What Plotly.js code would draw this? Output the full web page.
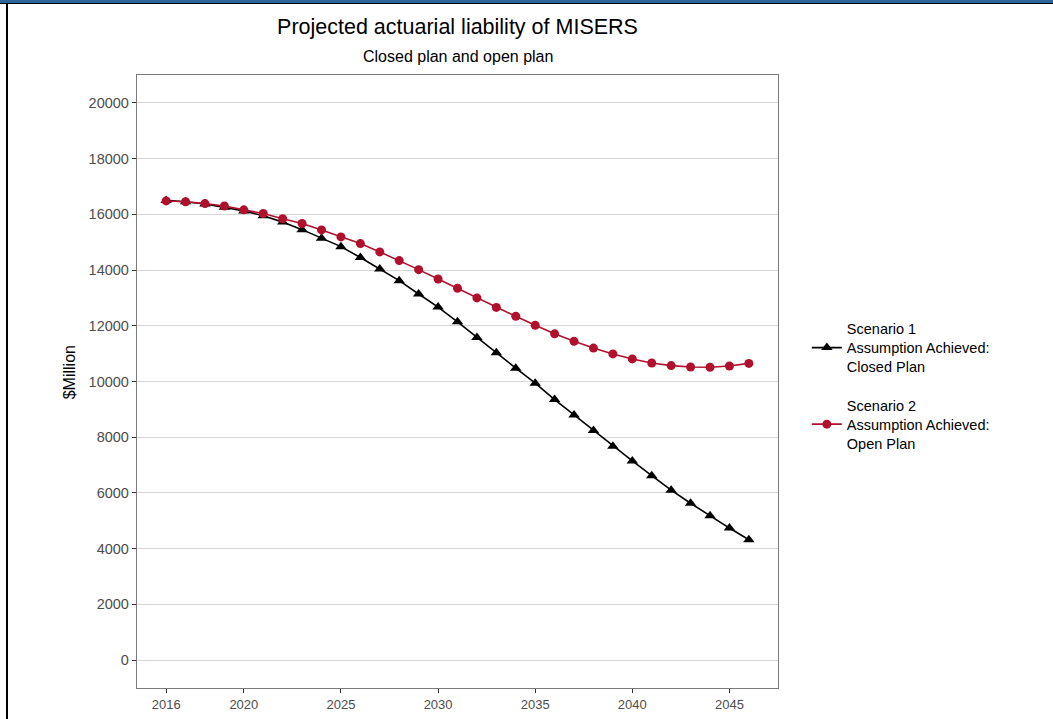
<!DOCTYPE html>
<html>
<head>
<meta charset="utf-8">
<script src="https://cdn.plot.ly/plotly-3.0.1.min.js"></script>
<style>
  html, body { margin: 0; padding: 0; background: #fff; }
  #wrap { position: relative; width: 1053px; height: 719px; overflow: hidden; }
  #chart { position: absolute; left: 0; top: 0; width: 1053px; height: 719px; }
  .bar-blue { position: absolute; left: 0; top: 0; width: 1053px; height: 3px; background: #2e6599; }
  .bar-black { position: absolute; left: 0; top: 3px; width: 1053px; height: 1px; background: #000; }
  .side-black { position: absolute; left: 6px; top: 3px; width: 2px; height: 716px; background: #000; }
</style>
</head>
<body>
<div id="wrap">
  <div id="chart"></div>
  <div class="bar-blue"></div>
  <div class="bar-black"></div>
  <div class="side-black"></div>
</div>
<script>
// Years of projection
const years = [2016, 2017, 2018, 2019, 2020, 2021, 2022, 2023, 2024, 2025,
               2026, 2027, 2028, 2029, 2030, 2031, 2032, 2033, 2034, 2035,
               2036, 2037, 2038, 2039, 2040, 2041, 2042, 2043, 2044, 2045, 2046];

// Scenario 1: Closed plan ($Million)
const closedPlan = [16500, 16450, 16370, 16250, 16120, 15950, 15720, 15450, 15140, 14840,
                    14450, 14040, 13620, 13140, 12670, 12140, 11580, 11030, 10480, 9940,
                    9350, 8800, 8240, 7680, 7150, 6620, 6100, 5630, 5180, 4740, 4320];

// Scenario 2: Open plan ($Million)
const openPlan = [16480, 16450, 16385, 16300, 16160, 16030, 15840, 15670, 15440, 15190,
                  14950, 14650, 14340, 14015, 13680, 13345, 13000, 12660, 12340, 12020,
                  11710, 11445, 11200, 10990, 10810, 10665, 10570, 10520, 10510, 10555, 10650];

const xTickVals = [2016, 2020, 2025, 2030, 2035, 2040, 2045];
const yTickVals = [0, 2000, 4000, 6000, 8000, 10000, 12000, 14000, 16000, 18000, 20000];

const seriesNames = [
  "Scenario 1<br>Assumption Achieved:<br>Closed Plan",
  "Scenario 2<br>Assumption Achieved:<br>Open Plan"
];

const FONT = "Liberation Sans, Arial, sans-serif";

const traces = [
  {
    x: years, y: closedPlan, name: seriesNames[0], legendgroup: "g1",
    type: "scatter", mode: "lines+markers",
    line: { color: "#000000", width: 1.6 },
    marker: { symbol: "triangle-up", size: 10, color: "#000000" }
  },
  {
    x: years, y: openPlan, name: seriesNames[1], legendgroup: "g2",
    type: "scatter", mode: "lines+markers",
    line: { color: "#B0102C", width: 1.6 },
    marker: { symbol: "circle", size: 9, color: "#B0102C" }
  }
];

const layout = {
  width: 1053, height: 719,
  margin: { l: 137, r: 275, t: 75, b: 31, pad: 0 },
  paper_bgcolor: "#ffffff", plot_bgcolor: "#ffffff",
  font: { family: FONT, color: "#000" },
  title: {
    text: "Projected actuarial liability of MISERS",
    font: { family: FONT, size: 21.5, color: "#000" },
    x: 0.5, xref: "paper", xanchor: "center",
    y: 0.963, yref: "container", yanchor: "middle"
  },
  annotations: [
    {
      text: "Closed plan and open plan", showarrow: false,
      xref: "paper", yref: "paper", x: 0.5, y: 1.0, xanchor: "center", yanchor: "bottom",
      yshift: 8, font: { family: FONT, size: 16, color: "#000" }
    },
    {
      text: "$Million", showarrow: false, textangle: -90,
      xref: "paper", yref: "paper", x: 0, y: 0.515, xanchor: "center", yanchor: "middle",
      xshift: -68, font: { family: FONT, size: 16, color: "#000" }
    }
  ],
  xaxis: {
    range: [2014.5, 2047.5], tickmode: "array", tickvals: xTickVals,
    showgrid: false, zeroline: false,
    showline: true, linecolor: "#7a7a7a", linewidth: 1.2, mirror: true,
    ticks: "outside", ticklen: 4, tickcolor: "#333", tickwidth: 1,
    tickfont: { family: FONT, size: 13, color: "#4d4d4d" }
  },
  yaxis: {
    range: [-1000, 21000], tickmode: "array", tickvals: yTickVals, tickformat: "d",
    showgrid: true, gridcolor: "#d6d6d6", gridwidth: 1, zeroline: false,
    showline: true, linecolor: "#7a7a7a", linewidth: 1.2, mirror: true,
    ticks: "outside", ticklen: 4, tickcolor: "#333", tickwidth: 1,
    tickfont: { family: FONT, size: 14.5, color: "#4d4d4d" }
  },
  showlegend: true,
  legend: {
    x: 1.045, xanchor: "left", y: 0.612, yanchor: "top",
    font: { family: FONT, size: 14.5, color: "#000" },
    tracegroupgap: 17, bgcolor: "rgba(0,0,0,0)", borderwidth: 0
  }
};

Plotly.newPlot("chart", traces, layout, { displayModeBar: false, staticPlot: true });
</script>
</body>
</html>
